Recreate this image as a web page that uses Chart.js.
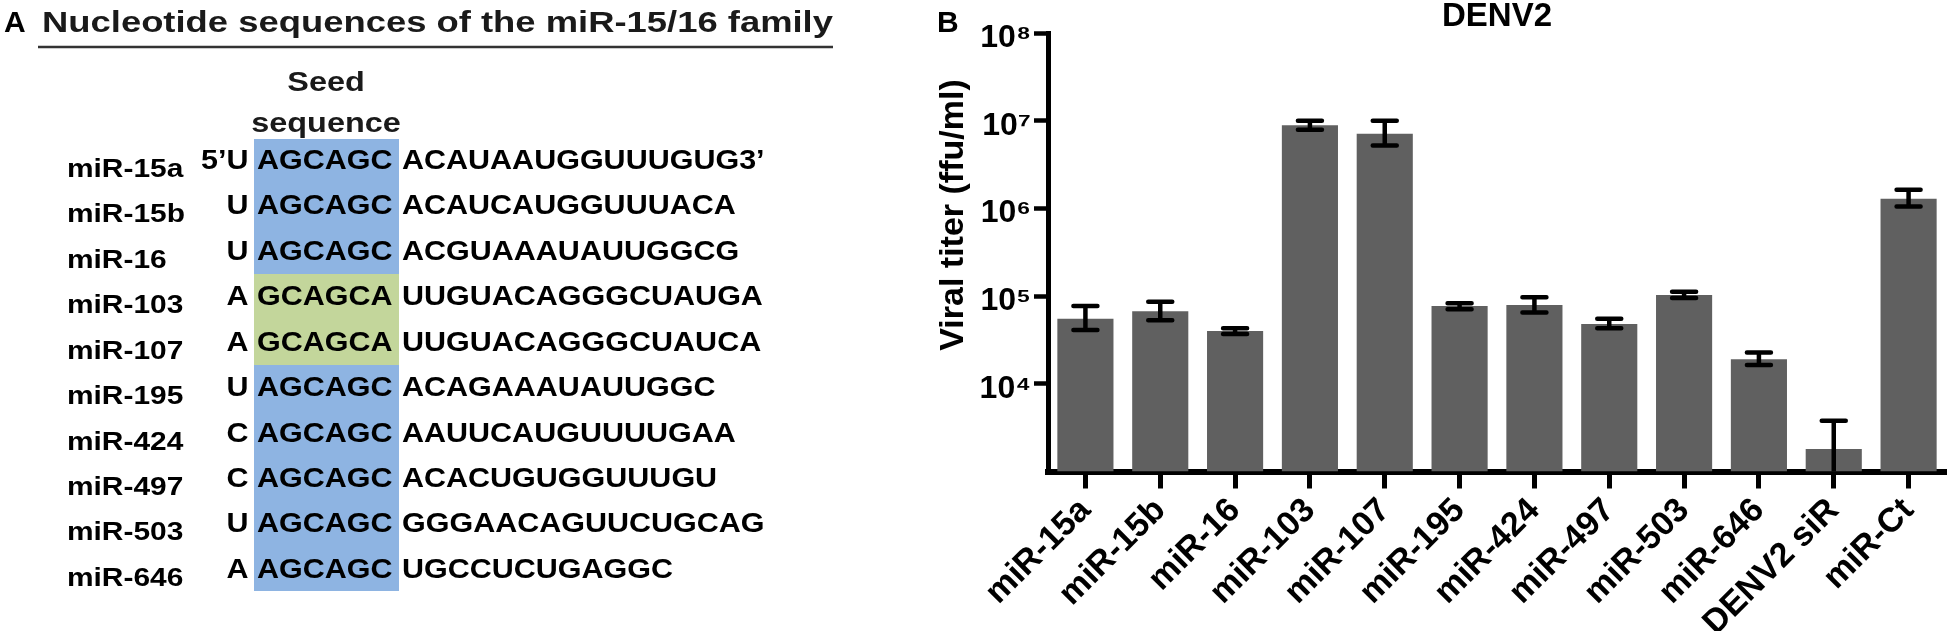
<!DOCTYPE html>
<html>
<head>
<meta charset="utf-8">
<title>miR-15/16 family and DENV2 viral titer</title>
<script src="https://cdn.jsdelivr.net/npm/chart.js@4.4.1/dist/chart.umd.min.js"></script>
<style>
  html, body { margin: 0; padding: 0; background: #fff; overflow: hidden; }
  #page { position: relative; width: 1952px; height: 631px; }
  #chartBox { position: absolute; left: 880px; top: 0; width: 1072px; height: 631px; }
  #overlay { position: absolute; left: 0; top: 0; pointer-events: none; }
  #overlay text { font-family: "Liberation Sans", Arial, sans-serif; font-weight: bold; }
</style>
</head>
<body>
<div id="page">
  <div id="chartBox"><canvas id="titerChart"></canvas></div>
  <svg id="overlay" width="1952" height="631"></svg>
</div>
<script>
// ---- panel A: sequences ----
const mirNames = ["miR-15a", "miR-15b", "miR-16", "miR-103", "miR-107",
                  "miR-195", "miR-424", "miR-497", "miR-503", "miR-646"];
const mirPrefix = ["5\u2019U", "U", "U", "A", "A", "U", "C", "C", "U", "A"];
const mirSeed = ["AGCAGC", "AGCAGC", "AGCAGC", "GCAGCA", "GCAGCA",
                 "AGCAGC", "AGCAGC", "AGCAGC", "AGCAGC", "AGCAGC"];
const mirTail = ["ACAUAAUGGUUUGUG3\u2019", "ACAUCAUGGUUUACA", "ACGUAAAUAUUGGCG",
                 "UUGUACAGGGCUAUGA", "UUGUACAGGGCUAUCA", "ACAGAAAUAUUGGC",
                 "AAUUCAUGUUUUGAA", "ACACUGUGGUUUGU", "GGGAACAGUUCUGCAG", "UGCCUCUGAGGC"];

// ---- panel B: DENV2 titers (ffu/ml) ----
const categories = ["miR-15a", "miR-15b", "miR-16", "miR-103", "miR-107", "miR-195",
                    "miR-424", "miR-497", "miR-503", "miR-646", "DENV2 siR", "miR-Ct"];
const titerMean = [5.5e4, 6.7e4, 4.0e4, 8.9e6, 7.1e6, 7.7e4, 7.9e4, 4.8e4, 1.03e5, 1.9e4, 1.8e3, 1.29e6];
const titerHigh = [7.7e4, 8.6e4, 4.3e4, 1.0e7, 1.0e7, 8.3e4, 9.7e4, 5.5e4, 1.12e5, 2.27e4, 3.8e3, 1.63e6];
const titerLow  = [4.1e4, 5.3e4, 3.7e4, 7.9e6, 5.2e6, 7.1e4, 6.5e4, 4.3e4, 9.5e4, 1.64e4, 0, 1.05e6];
const yTicks = [1e4, 1e5, 1e6, 1e7, 1e8];
const yTickLabels = ["10\u2074", "10\u2075", "10\u2076", "10\u2077", "10\u2078"];

const FONT = '"Liberation Sans", Arial, sans-serif';
const NS = "http://www.w3.org/2000/svg";
const svg = document.getElementById("overlay");

function addText(str, x, y, size, opts = {}) {
  const t = document.createElementNS(NS, "text");
  t.textContent = str;
  t.setAttribute("font-size", size);
  let tr = `translate(${x},${y})`;
  if (opts.rotate) tr += ` rotate(${opts.rotate})`;
  if (opts.sx) tr += ` scale(${opts.sx},1)`;
  t.setAttribute("transform", tr);
  if (opts.anchor) t.setAttribute("text-anchor", opts.anchor);
  if (opts.length) {
    t.setAttribute("textLength", opts.length);
    t.setAttribute("lengthAdjust", "spacingAndGlyphs");
  }
  t.setAttribute("fill", opts.fill || "#000");
  svg.appendChild(t);
}

function addRect(x, y, w, h, fill) {
  const r = document.createElementNS(NS, "rect");
  r.setAttribute("x", x); r.setAttribute("y", y);
  r.setAttribute("width", w); r.setAttribute("height", h);
  r.setAttribute("fill", fill);
  r.setAttribute("shape-rendering", "crispEdges");
  svg.appendChild(r);
}

// seed boxes
const boxTop = 138.5, boxH = 45.25;
mirSeed.forEach((s, i) => {
  const y0 = Math.round(boxTop + i * boxH), y1 = Math.round(boxTop + (i + 1) * boxH);
  addRect(254, y0, 145, y1 - y0, s === "GCAGCA" ? "#c3d69b" : "#8eb4e2");
});

addText("A", 4, 32, 30);
addText("Nucleotide sequences of the miR-15/16 family", 42, 32, 29, { length: 791, fill: "#1a1a1a" });
const ul = document.createElementNS(NS, "line");
ul.setAttribute("x1", 38); ul.setAttribute("x2", 833);
ul.setAttribute("y1", 47); ul.setAttribute("y2", 47);
ul.setAttribute("stroke", "#333"); ul.setAttribute("stroke-width", 2.5);
svg.appendChild(ul);

addText("Seed", 326, 91, 27, { anchor: "middle", sx: 1.2, fill: "#1a1a1a" });
addText("sequence", 326, 132, 27, { anchor: "middle", sx: 1.2, fill: "#1a1a1a" });

const rowGap = 45.43;
mirNames.forEach((name, i) => {
  const base = 169 + i * rowGap;
  addText(name, 67, base + 8, 26, { sx: 1.15 });
  addText(mirPrefix[i], 248.5, base, 27, { anchor: "end", sx: 1.13 });
  addText(mirSeed[i], 257, base, 27, { sx: 1.13 });
  addText(mirTail[i], 402, base, 27, { sx: 1.13 });
});

// panel B labels outside the canvas drawing
addText("B", 937, 32, 30);
addText("Viral titer (ffu/ml)", 963, 215, 34, { anchor: "middle", rotate: -90 });

// ---- chart ----
Chart.defaults.font.family = FONT;
Chart.defaults.color = "#000";

const errorBars = {
  id: "errorBars",
  afterDatasetsDraw(chart) {
    const { ctx } = chart;
    const y = chart.scales.y;
    const meta = chart.getDatasetMeta(0);
    ctx.save();
    ctx.strokeStyle = "#000";
    ctx.lineWidth = 4.5;
    meta.data.forEach((bar, i) => {
      const x = bar.x;
      const top = y.getPixelForValue(titerHigh[i]);
      const clipped = !(titerLow[i] > y.min);
      const bottom = clipped ? y.bottom : y.getPixelForValue(titerLow[i]);
      ctx.lineCap = "butt";
      ctx.beginPath();
      ctx.moveTo(x, top);
      ctx.lineTo(x, bottom);
      ctx.stroke();
      ctx.lineCap = "round";
      ctx.beginPath();
      ctx.moveTo(x - 12, top);
      ctx.lineTo(x + 12, top);
      if (!clipped) {
        ctx.moveTo(x - 12, bottom);
        ctx.lineTo(x + 12, bottom);
      }
      ctx.stroke();
    });
    ctx.restore();
  }
};

new Chart(document.getElementById("titerChart").getContext("2d"), {
  type: "bar",
  data: {
    labels: categories,
    datasets: [{
      data: titerMean,
      backgroundColor: "#606060",
      borderWidth: 0,
      barPercentage: 0.75,
      categoryPercentage: 1.0
    }]
  },
  options: {
    responsive: true,
    maintainAspectRatio: false,
    animation: false,
    layout: { padding: { left: 0, right: 6, top: 0, bottom: 0 } },
    plugins: {
      legend: { display: false },
      tooltip: { enabled: false },
      title: {
        display: true,
        text: "DENV2",
        fullSize: false,
        color: "#000",
        font: { size: 33, weight: "bold", lineHeight: 1 },
        padding: { top: 0, bottom: 0 }
      }
    },
    scales: {
      x: {
        z: 1,
        afterFit: (s) => { s.height = 159.5; },
        ticks: {
          autoSkip: false,
          minRotation: 45,
          maxRotation: 45,
          padding: 2,
          color: "#000",
          font: { size: 34, weight: "bold" }
        },
        grid: { offset: false, drawOnChartArea: false, tickLength: 17, tickWidth: 5, tickColor: "#000" },
        border: { color: "#000", width: 6 }
      },
      y: {
        type: "logarithmic",
        min: 1e3,
        max: 1e8,
        z: 1,
        afterFit: (s) => { s.width = 168; },
        afterBuildTicks: (s) => { s.ticks = yTicks.map((v) => ({ value: v })); },
        ticks: {
          callback: (v) => yTickLabels[yTicks.indexOf(v)],
          padding: 3,
          labelOffset: 5,
          color: "#000",
          font: { size: 32, weight: "bold" }
        },
        grid: { drawOnChartArea: false, tickLength: 14, tickWidth: 4.5, tickColor: "#000" },
        border: { color: "#000", width: 5 }
      }
    }
  },
  plugins: [errorBars]
});
</script>
</body>
</html>
